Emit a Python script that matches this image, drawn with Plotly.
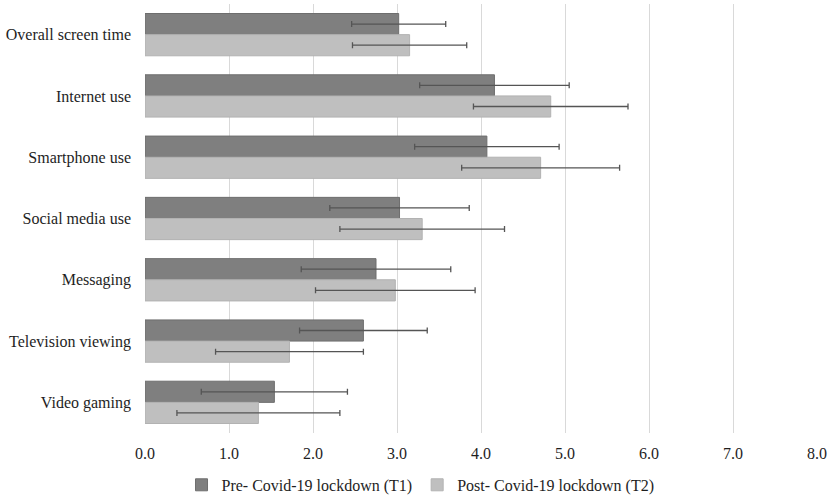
import plotly.graph_objects as go

# categories, top to bottom
categorias = ["Overall screen time", "Internet use", "Smartphone use", "Social media use",
              "Messaging", "Television viewing", "Video gaming"]

# medias y desviaciones
pre_media = [3.02, 4.16, 4.07, 3.03, 2.75, 2.60, 1.54]
pre_sd = [0.56, 0.89, 0.86, 0.83, 0.89, 0.76, 0.87]
post_media = [3.15, 4.83, 4.71, 3.30, 2.98, 1.72, 1.35]
post_sd = [0.68, 0.92, 0.94, 0.98, 0.95, 0.88, 0.97]

ticks_x = [0, 1, 2, 3, 4, 5, 6, 7, 8]
ticks_texto = ["0.0", "1.0", "2.0", "3.0", "4.0", "5.0", "6.0", "7.0", "8.0"]

fuente = "Liberation Serif, Times New Roman, serif"

fig = go.Figure()
fig.add_trace(go.Bar(
    y=categorias, x=pre_media, orientation="h",
    name="Pre- Covid-19 lockdown (T1)",
    marker=dict(color="#7f7f7f", line=dict(color="#6e6e6e", width=1)),
    error_x=dict(type="data", array=pre_sd, color="#555555", thickness=1.3, width=3),
))
fig.add_trace(go.Bar(
    y=categorias, x=post_media, orientation="h",
    name="Post- Covid-19 lockdown (T2)",
    marker=dict(color="#bfbfbf", line=dict(color="#b2b2b2", width=1)),
    error_x=dict(type="data", array=post_sd, color="#555555", thickness=1.3, width=3),
))

fig.update_layout(
    width=829, height=496,
    margin=dict(l=145, r=12, t=4, b=63, autoexpand=False),
    barmode="group", bargap=0.31, bargroupgap=0,
    paper_bgcolor="white", plot_bgcolor="white",
    font=dict(family=fuente, size=16, color="#1e1e1e"),
    legend=dict(orientation="h", x=0.41, xanchor="center", y=-0.121, yanchor="middle",
                font=dict(family=fuente, size=16), itemwidth=30, traceorder="normal"),
    showlegend=True,
)
fig.update_xaxes(range=[0, 8], tickvals=ticks_x, ticktext=ticks_texto,
                 showgrid=True, gridcolor="#d9d9d9", gridwidth=1,
                 zeroline=False, showline=False, ticks="", automargin=False,
                 ticklabelstandoff=9,
                 tickfont=dict(family=fuente, size=16))
fig.update_yaxes(autorange="reversed", showgrid=False, zeroline=False,
                 showline=False, ticks="", ticklabelstandoff=13, automargin=False,
                 tickfont=dict(family=fuente, size=16))

# quitar el margen del body para que el grafico quede en 0,0
fig.write_html("out.html", config={"displayModeBar": False},
               post_script="document.body.style.margin='0';")
